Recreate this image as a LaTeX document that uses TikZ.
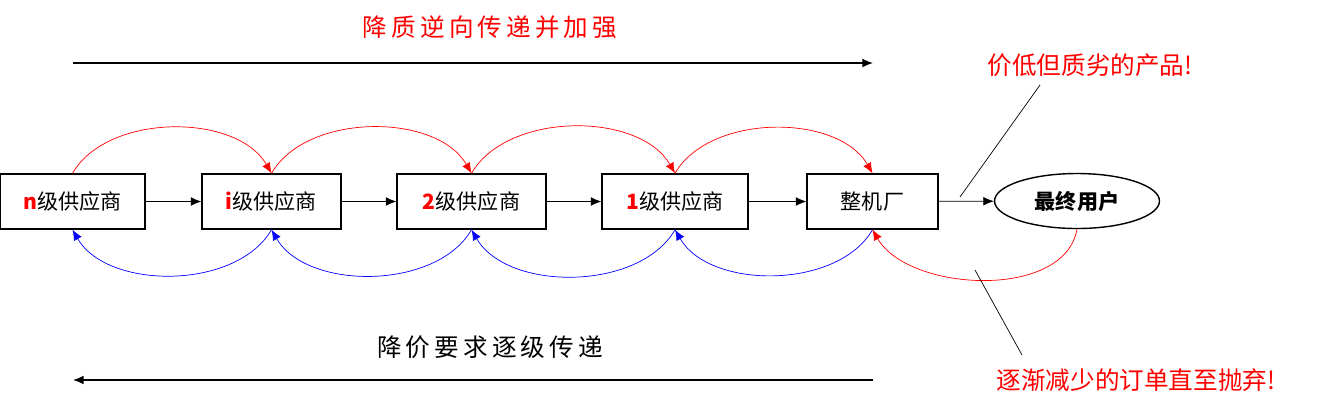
\documentclass[tikz,border=0pt]{standalone}
\usepackage{fontspec}
\setmainfont{Liberation Sans}
\newfontfamily\cjk{Noto Sans CJK SC}
\usetikzlibrary{arrows.meta,shapes.geometric}
\tikzset{
	box/.style={draw, thick, minimum width=#1, minimum height=1.1cm, inner sep=0pt, font=\cjk\fontsize{12}{14}\selectfont},
	flow/.style={-{Latex[length=6pt,width=5pt]}},
	uparc/.style={red, flow, out=60, in=120, looseness=0.9},
	downarc/.style={blue, flow, out=-120, in=-60, looseness=0.9},
	note/.style={red, font=\cjk\fontsize{14}{16}\selectfont}
}
\newcommand{\rn}[1]{\textcolor{red}{\bfseries #1}}
\begin{document}
\begin{tikzpicture}[x=0.02cm, y=-0.02cm]
		\useasboundingbox (0,0) rectangle (1334,414);
		\node[box=2.9cm] (n) at (72.5,201.5){\rn{n}级供应商};
		\node[box=2.78cm] (i) at (271.5,201.5){\rn{i}级供应商};
		\node[box=2.98cm] (two) at (471.5,201.5){\rn{2}级供应商};
		\node[box=2.92cm] (one) at (675,201.5){\rn{1}级供应商};
		\node[box=2.62cm] (oem) at (872.5,201.5){整机厂};
		\node[draw, thick, ellipse, minimum width=3.3cm, minimum height=1.1cm, font=\cjk\bfseries\fontsize{12}{14}\selectfont] (user) at (1077,201){最终用户};

		\draw[flow] (n) -- (i);
		\draw[flow] (i) -- (two);
		\draw[flow] (two) -- (one);
		\draw[flow] (one) -- (oem);
		\draw[flow] (oem) -- (user);

		\draw[uparc] (n.north) to (i.north);
		\draw[uparc] (i.north) to (two.north);
		\draw[uparc] (two.north) to (one.north);
		\draw[uparc] (one.north) to (oem.north);
		\draw[downarc] (i.south) to (n.south);
		\draw[downarc] (two.south) to (i.south);
		\draw[downarc] (one.south) to (two.south);
		\draw[downarc] (oem.south) to (one.south);
		\draw[red, flow, out=-100, in=-60, looseness=0.9] (user.south) to (oem.south);

		\coordinate (ta) at (73,63);
		\coordinate (tb) at (873,63);
		\coordinate (ba) at (873,380);
		\coordinate (bb) at (73,380);
		\draw[thick, flow] (ta) -- (tb);
		\draw[thick, flow] (ba) -- (bb);
		\node[note] (top) at (490,27){降\,质\,逆\,向\,传\,递\,并\,加\,强};
		\node[font=\cjk\fontsize{14}{16}\selectfont] (bot) at (490,347){降\,价\,要\,求\,逐\,级\,传\,递};

		\coordinate (la) at (960,197);
		\coordinate (lb) at (1040,85);
		\coordinate (lc) at (975,270);
		\coordinate (ld) at (1022,355);
		\draw (la) -- (lb);
		\draw (lc) -- (ld);
		\node[note] (good) at (1090,65){价低但质劣的产品!};
		\node[note] (order) at (1136,380){逐渐减少的订单直至抛弃!};
	\end{tikzpicture}
\end{document}
